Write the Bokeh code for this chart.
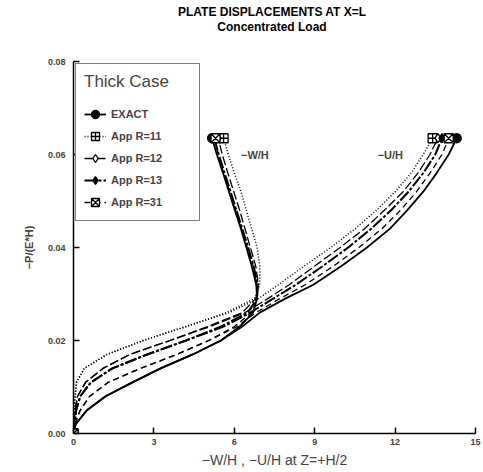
import numpy as np
from bokeh.plotting import figure
from bokeh.layouts import column
from bokeh.models import (Range1d, FixedTicker, PrintfTickFormatter, Legend,
                          LegendItem, Label, Div)
from bokeh.embed import file_html
from bokeh.resources import INLINE

# ---- data ----
load = [0, 0.002, 0.005, 0.008, 0.011, 0.014, 0.017, 0.020, 0.023, 0.026,
        0.029, 0.032, 0.036, 0.040, 0.044, 0.048, 0.052, 0.056, 0.060, 0.0635]

exact_u = [0, 0.08, 0.5, 1.2, 2.2, 3.25, 4.45, 5.5, 6.3, 6.95,
           7.9, 8.95, 10.0, 10.95, 11.8, 12.45, 13.05, 13.55, 14.0, 14.3]
exact_w = [0, 0.08, 0.5, 1.2, 2.2, 3.25, 4.45, 5.5, 6.2, 6.7,
           6.85, 6.82, 6.65, 6.45, 6.25, 6.02, 5.8, 5.58, 5.35, 5.17]

r11_u = [0, 0.01, 0.03, 0.06, 0.11, 0.4, 1.25, 2.6, 4.2, 5.8,
         6.9, 7.65, 8.6, 9.6, 10.5, 11.3, 12.0, 12.6, 13.05, 13.4]
r11_w = [0, 0.01, 0.03, 0.06, 0.11, 0.4, 1.25, 2.6, 4.2, 5.7,
         6.75, 6.95, 6.95, 6.85, 6.65, 6.45, 6.25, 6.0, 5.78, 5.6]

r12_u = [0, 0.02, 0.06, 0.15, 0.45, 1.1, 2.1, 3.6, 5.1, 6.4,
         7.25, 8.05, 9.0, 9.95, 10.85, 11.6, 12.3, 12.85, 13.3, 13.6]
r12_w = [0, 0.02, 0.06, 0.15, 0.45, 1.1, 2.1, 3.6, 5.0, 6.3,
         6.8, 6.9, 6.8, 6.6, 6.4, 6.2, 5.98, 5.76, 5.55, 5.4]

r13_u = [0, 0.03, 0.1, 0.25, 0.65, 1.45, 2.75, 4.2, 5.6, 6.6,
         7.45, 8.3, 9.3, 10.25, 11.1, 11.85, 12.5, 13.05, 13.5, 13.75]
r13_w = [0, 0.03, 0.1, 0.25, 0.65, 1.45, 2.75, 4.2, 5.5, 6.5,
         6.85, 6.88, 6.72, 6.52, 6.3, 6.08, 5.86, 5.64, 5.42, 5.25]

r31_u = [0, 0.05, 0.25, 0.6, 1.3, 2.5, 3.85, 5.05, 6.1, 6.8,
         7.7, 8.65, 9.7, 10.65, 11.5, 12.2, 12.8, 13.3, 13.75, 14.0]
r31_w = [0, 0.05, 0.25, 0.6, 1.3, 2.5, 3.85, 5.05, 6.0, 6.65,
         6.85, 6.85, 6.7, 6.48, 6.27, 6.05, 5.83, 5.6, 5.4, 5.3]

series_names = ["EXACT", "App R=11", "App R=12", "App R=13", "App R=31"]
x_ticks = [0, 3, 6, 9, 12, 15]
y_ticks = [0.00, 0.02, 0.04, 0.06, 0.08]
title_lines = ["PLATE DISPLACEMENTS AT X=L", "Concentrated Load"]

# ---- styles ----
styles = [
    dict(dash="solid", width=1.8, marker="circle", fill="black"),
    dict(dash="1 2", width=1.5, marker="square_cross", fill="white"),
    dict(dash="9 3", width=1.3, marker="diamond", fill="white"),
    dict(dash="12 2 3 2", width=2.0, marker="diamond", fill="black"),
    dict(dash="6 4", width=1.3, marker="square_x", fill="white"),
]
curves = [(exact_u, exact_w), (r11_u, r11_w), (r12_u, r12_w),
          (r13_u, r13_w), (r31_u, r31_w)]

FONT = "Liberation Sans"
TITLE_H = 40

header = Div(
    text=("<div style=\"width:422px; margin-left:61px; text-align:center;"
          " font-family:'Liberation Sans'; font-weight:bold; font-size:12px;"
          " line-height:15px; padding-top:5px; color:black;\">"
          + title_lines[0] + "<br>" + title_lines[1] + "</div>"),
    width=483, height=TITLE_H, margin=0)

p = figure(width=483, height=472 - TITLE_H, output_backend="svg",
           toolbar_location=None,
           x_range=Range1d(0, 15), y_range=Range1d(0, 0.08),
           min_border_left=73, min_border_right=8, min_border_top=61 - TITLE_H,
           min_border_bottom=39, margin=0)
p.title.visible = False

p.outline_line_color = None
p.xgrid.visible = False
p.ygrid.visible = False
p.background_fill_color = "white"

items = []
for name, (xu, xw), st in zip(series_names, curves, styles):
    lu = p.line(xu, load, line_color="black", line_width=st["width"],
                line_dash=st["dash"])
    p.line(xw, load, line_color="black", line_width=st["width"],
           line_dash=st["dash"])
    mx = [xu[0], xu[-1], xw[-1]]
    my = [load[0], load[-1], load[-1]]
    mk = p.scatter(mx, my, marker=st["marker"], size=9, line_color="black",
                   fill_color=st["fill"], line_width=1.3)
    items.append(LegendItem(label=name, renderers=[lu, mk]))

legend = Legend(items=items, location="top_left", title="Thick Case",
                title_text_font=FONT, title_text_font_size="17px",
                title_text_font_style="normal", title_standoff=12,
                label_text_font=FONT, label_text_font_size="11px",
                label_text_font_style="bold", label_width=80,
                label_height=20, glyph_width=22, glyph_height=20,
                spacing=2, padding=8, margin=2,
                border_line_color="black", border_line_width=1.2,
                background_fill_alpha=1.0)
p.add_layout(legend)

p.add_layout(Label(x=6.25, y=0.0587, text="\u2212W/H", text_font=FONT,
                   text_font_size="11px", text_font_style="bold"))
p.add_layout(Label(x=11.35, y=0.0587, text="\u2212U/H", text_font=FONT,
                   text_font_size="11px", text_font_style="bold"))

for ax in (p.xaxis[0], p.yaxis[0]):
    ax.major_tick_in = 6
    ax.major_tick_out = 0
    ax.minor_tick_line_color = None
    ax.axis_line_width = 1.5
    ax.major_tick_line_width = 1.5
    ax.major_label_text_font = FONT
    ax.major_label_text_font_size = "9px"
    ax.major_label_text_font_style = "bold"
    ax.axis_label_text_font = FONT
    ax.axis_label_text_font_style = "normal"

p.xaxis.ticker = FixedTicker(ticks=x_ticks)
p.yaxis.ticker = FixedTicker(ticks=y_ticks)
p.yaxis.formatter = PrintfTickFormatter(format="%.2f")
p.xaxis.axis_label = "\u2212W/H , \u2212U/H at Z=+H/2"
p.yaxis.axis_label = "\u2212P/(E*H)"
p.xaxis.axis_label_text_font_size = "14px"
p.yaxis.axis_label_text_font_size = "11px"
p.yaxis.axis_label_text_font_style = "bold"
p.xaxis.major_label_standoff = 5
p.yaxis.major_label_standoff = 8
p.xaxis.axis_label_standoff = 4
p.yaxis.axis_label_standoff = 10

layout = column(header, p, spacing=0)
open("out.html", "w").write(file_html(layout, INLINE))
